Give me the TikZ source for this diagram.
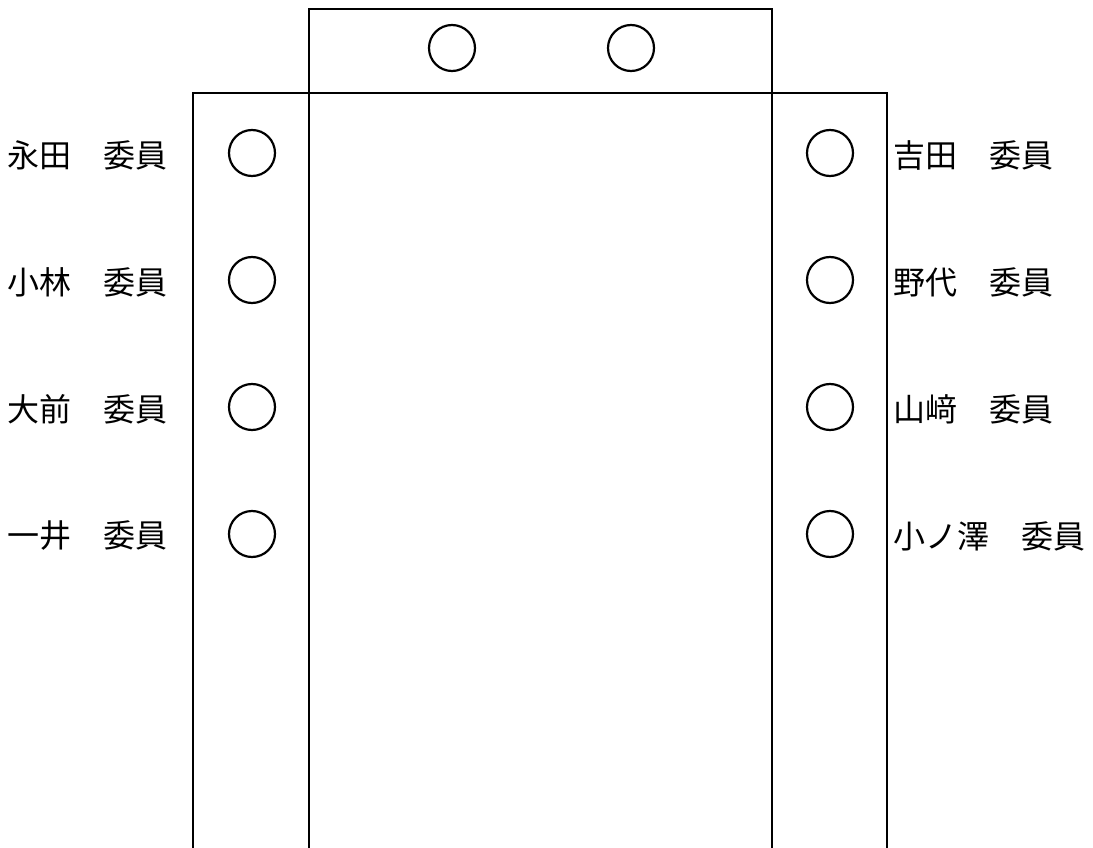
\documentclass[tikz,border=0pt]{standalone}
\usepackage{fontspec}
\newfontfamily\cjk{Noto Sans CJK JP}
\begin{document}
\begin{tikzpicture}
    [
    x=1pt, y=-1pt,
    every node/.style={font=\cjk\fontsize{32}{32}\selectfont},
    seat/.style={circle, draw, line width=2.2pt, minimum size=46pt, inner sep=0pt},
    table/.style={line width=1.5pt},
    member/.style={anchor=west, inner sep=0pt}
    ]

% Page size
    \useasboundingbox (0,0) rectangle (1093,848);

% Tables
    \draw[table] (309,848) -- (309,9) -- (772,9) -- (772,848);
    \draw[table] (193,848) -- (193,93) -- (887,93) -- (887,848);

% Top seats
    \node[seat] (top_a) at (452,48) {};
    \node[seat] (top_b) at (631,48) {};

% Left seats
    \node[seat] (left_1) at (252,153) {};
    \node[seat] (left_2) at (252,280) {};
    \node[seat] (left_3) at (252,407) {};
    \node[seat] (left_4) at (252,534) {};

% Right seats
    \node[seat] (right_1) at (830,153) {};
    \node[seat] (right_2) at (830,280) {};
    \node[seat] (right_3) at (830,407) {};
    \node[seat] (right_4) at (830,534) {};

% Left names
    \node[member] (name_l1) at (7,155) {永田　委員};
    \node[member] (name_l2) at (7,282) {小林　委員};
    \node[member] (name_l3) at (7,409) {大前　委員};
    \node[member] (name_l4) at (7,536) {一井　委員};

% Right names
    \node[member] (name_r1) at (893,155) {吉田　委員};
    \node[member] (name_r2) at (893,282) {野代　委員};
    \node[member] (name_r3) at (893,409) {山﨑　委員};
    \node[member] (name_r4) at (893,536) {小ノ澤　委員};

\end{tikzpicture}
\end{document}
